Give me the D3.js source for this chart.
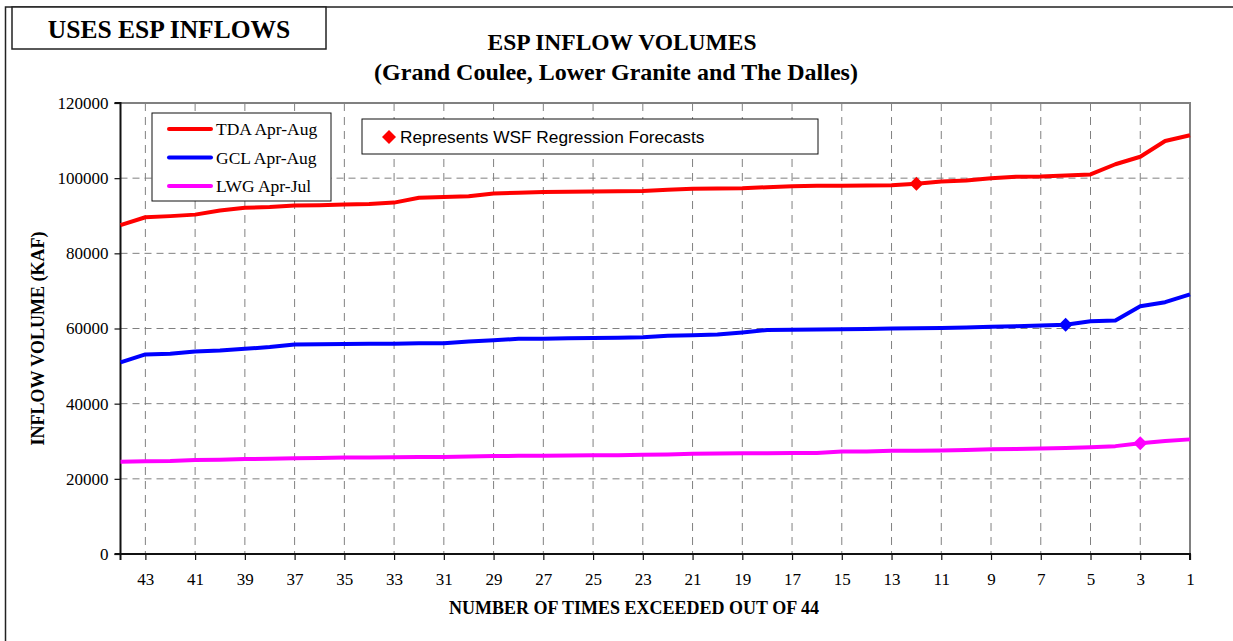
<!DOCTYPE html>
<html>
<head>
<meta charset="utf-8">
<script src="https://cdn.jsdelivr.net/npm/d3@7"></script>
<style>
  body { margin: 0; background: #fff; }
  svg { display: block; }
</style>
</head>
<body>
<svg id="chart" width="1233" height="641"></svg>
<script>
// ---- DATA ----
const exceedCounts = d3.range(44, 0, -1); // 44 ... 1
const tdaValues = [87500, 89600, 89900, 90300, 91400, 92100, 92300, 92700, 92800, 93000,
  93150, 93500, 94800, 95000, 95200, 95900, 96150, 96300, 96400, 96450,
  96500, 96600, 96950, 97200, 97250, 97300, 97600, 97850, 97950, 98000,
  98050, 98100, 98500, 99100, 99400, 100000, 100400, 100450, 100700, 101000,
  103700, 105700, 109900, 111400];
const gclValues = [51000, 53100, 53300, 53900, 54150, 54600, 55050, 55750, 55800, 55900,
  55950, 55950, 56050, 56100, 56550, 56850, 57250, 57300, 57420, 57480,
  57520, 57700, 58050, 58220, 58400, 58950, 59600, 59650, 59720, 59800,
  59880, 59980, 60050, 60150, 60280, 60450, 60620, 60800, 61000, 61950,
  62150, 65900, 67000, 69100];
const lwgValues = [24550, 24700, 24750, 24980, 25070, 25250, 25350, 25500, 25550, 25680,
  25700, 25720, 25780, 25800, 25950, 26050, 26120, 26150, 26220, 26250,
  26300, 26400, 26500, 26650, 26750, 26780, 26840, 26860, 26880, 27250,
  27300, 27450, 27480, 27550, 27700, 27900, 27950, 28100, 28200, 28380,
  28700, 29450, 30050, 30500];
const seriesNames = ["TDA Apr-Aug", "GCL Apr-Aug", "LWG Apr-Jul"];
const seriesColors = ["#FF0000", "#0000FF", "#FF00FF"];
const forecastAt = [12, 6, 3]; // WSF regression forecast positions
const xTickValues = d3.range(43, 0, -2);
const yTickValues = [0, 20000, 40000, 60000, 80000, 100000, 120000];

// ---- LAYOUT ----
const svg = d3.select("#chart");
const L = 120.5, R = 1190, T = 103, B = 554;
const x = d3.scaleLinear().domain([44, 1]).range([L, R]);
const y = d3.scaleLinear().domain([0, 120000]).range([B, T]);
const serif = "'Liberation Serif', 'Times New Roman', serif";
const sans = "'Liberation Sans', Arial, sans-serif";

// outer frame
svg.append("rect").attr("x", 5.5).attr("y", 7).attr("width", 1300).attr("height", 700)
  .attr("fill", "none").attr("stroke", "#222").attr("stroke-width", 1.5);

// header box
svg.append("rect").attr("x", 12).attr("y", 7).attr("width", 314).attr("height", 42)
  .attr("fill", "#fff").attr("stroke", "#222").attr("stroke-width", 1.5);
svg.append("text").attr("x", 169).attr("y", 38).attr("text-anchor", "middle")
  .style("font-family", serif).style("font-weight", "bold").style("font-size", "25.5px")
  .text("USES ESP INFLOWS");

// titles
svg.append("text").attr("x", 622).attr("y", 50).attr("text-anchor", "middle")
  .style("font-family", serif).style("font-weight", "bold").style("font-size", "23.5px")
  .text("ESP INFLOW VOLUMES");
svg.append("text").attr("x", 616).attr("y", 80).attr("text-anchor", "middle")
  .style("font-family", serif).style("font-weight", "bold").style("font-size", "24px")
  .text("(Grand Coulee, Lower Granite and The Dalles)");

// gridlines
const grid = svg.append("g");
grid.selectAll("line.h").data(yTickValues.filter(v => v > 0 && v < 120000)).join("line")
  .attr("x1", L).attr("x2", R).attr("y1", d => y(d)).attr("y2", d => y(d))
  .attr("stroke", "#808080").attr("stroke-width", 1).attr("stroke-dasharray", "7,5");
grid.selectAll("line.v").data(xTickValues.filter(v => v > 1)).join("line")
  .attr("y1", T).attr("y2", B).attr("x1", d => x(d)).attr("x2", d => x(d))
  .attr("stroke", "#808080").attr("stroke-width", 1).attr("stroke-dasharray", "8,6");

// plot border (top/right gray)
svg.append("path").attr("d", `M${L},${T}H${R}V${B}`)
  .attr("fill", "none").attr("stroke", "#808080").attr("stroke-width", 2);

// axes
const yAxis = d3.axisLeft(y).tickValues(yTickValues).tickSize(6).tickPadding(6).tickFormat(d3.format("d"));
const gy = svg.append("g").attr("transform", `translate(${L},0)`).call(yAxis);
const xAxis = d3.axisBottom(x).tickValues(xTickValues).tickSize(6).tickPadding(13).tickFormat(d3.format("d"));
const gx = svg.append("g").attr("transform", `translate(0,${B})`).call(xAxis);
[gy, gx].forEach(g => {
  g.attr("font-family", serif);
  g.select(".domain").attr("stroke", "#111").attr("stroke-width", 2);
  g.selectAll(".tick line").attr("stroke", "#111").attr("stroke-width", 1.2);
  g.selectAll(".tick text").style("font-family", serif).style("font-size", "17px").attr("fill", "#000");
});
gy.select(".domain").attr("d", `M-6,${T}H0V${B}H-6`);
gx.select(".domain").attr("d", `M${L},6V0H${R}V6`);

// axis titles
svg.append("text").attr("transform", `translate(44,${(T + B) / 2 + 10}) rotate(-90)`)
  .attr("text-anchor", "middle")
  .style("font-family", serif).style("font-weight", "bold").style("font-size", "18px")
  .text("INFLOW VOLUME (KAF)");
svg.append("text").attr("x", 634).attr("y", 614).attr("text-anchor", "middle")
  .style("font-family", serif).style("font-weight", "bold").style("font-size", "18px")
  .text("NUMBER OF TIMES EXCEEDED OUT OF 44");

// lines
const allSeries = [tdaValues, gclValues, lwgValues];
const line = d3.line().x((d, i) => x(exceedCounts[i])).y(d => y(d));
allSeries.forEach((vals, k) => {
  svg.append("path").datum(vals).attr("d", line)
    .attr("fill", "none").attr("stroke", seriesColors[k]).attr("stroke-width", 4)
    .attr("stroke-linejoin", "round");
});

// forecast diamonds
const diamond = d3.symbol().type(d3.symbolDiamond2).size(125);
allSeries.forEach((vals, k) => {
  const idx = exceedCounts.indexOf(forecastAt[k]);
  svg.append("path").attr("d", diamond)
    .attr("transform", `translate(${x(forecastAt[k])},${y(vals[idx])})`)
    .attr("fill", seriesColors[k]);
});

// legend
const lg = svg.append("g");
lg.append("rect").attr("x", 152).attr("y", 113).attr("width", 179).attr("height", 88)
  .attr("fill", "#fff").attr("stroke", "#111").attr("stroke-width", 1);
seriesNames.forEach((name, k) => {
  const yy = 129 + k * 28.5;
  lg.append("line").attr("x1", 169).attr("x2", 211).attr("y1", yy).attr("y2", yy)
    .attr("stroke", seriesColors[k]).attr("stroke-width", 4).attr("stroke-linecap", "round");
  lg.append("text").attr("x", 216).attr("y", yy + 6)
    .style("font-family", serif).style("font-size", "17.5px").text(name);
});

// forecast note box
const nb = svg.append("g");
nb.append("rect").attr("x", 362).attr("y", 119).attr("width", 456).attr("height", 35)
  .attr("fill", "#fff").attr("stroke", "#111").attr("stroke-width", 1);
nb.append("path").attr("d", diamond).attr("transform", "translate(389,137)").attr("fill", "#FF0000");
nb.append("text").attr("x", 400).attr("y", 143)
  .style("font-family", sans).style("font-size", "17.3px").text("Represents WSF Regression Forecasts");
</script>
</body>
</html>
